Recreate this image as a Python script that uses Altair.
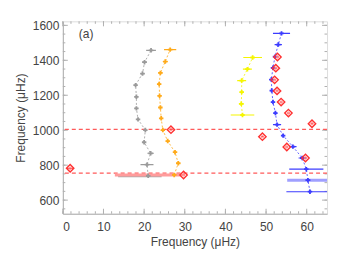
import altair as alt
import pandas as pd

# ---- data ----
gray_x = [21.7, 20.1, 19.6, 17.9, 18.1, 18.1, 18.5, 20.3, 20.0, 21.6, 20.7, 21.0]
gray_y = [1457, 1389, 1324, 1258, 1191, 1125, 1062, 1001, 931, 868, 803, 739]
gray_e = [1.2, 0.6, 0.5, 0.3, 0.3, 0.3, 0.3, 0.4, 0.3, 0.8, 1.6, 0.5]

orange_x = [26.4, 25.2, 24.0, 23.7, 23.8, 24.0, 24.2, 24.6, 25.8, 27.6, 28.4, 27.4]
orange_y = [1461, 1393, 1328, 1264, 1197, 1130, 1068, 1001, 938, 874, 811, 744]
orange_e = [1.5, 0.6, 0.5, 0.4, 0.4, 0.4, 0.4, 0.4, 0.4, 0.4, 0.5, 0.5]

yellow_x = [46.7, 45.4, 44.0, 44.0, 43.9, 44.2]
yellow_y = [1416, 1349, 1284, 1218, 1151, 1087]
yellow_e = [2.3, 1.1, 1.1, 0.5, 0.6, 2.9]

blue_x = [53.8, 53.0, 52.2, 51.7, 51.3, 51.4, 51.7, 52.3, 52.7, 54.2, 56.6, 58.9, 59.9, 60.3, 60.8]
blue_y = [1554, 1490, 1421, 1357, 1290, 1227, 1161, 1098, 1032, 969, 906, 841, 777, 714, 648]
blue_e = [2.1, 0.9, 0.5, 0.5, 0.5, 0.4, 0.4, 0.4, 1.0, 0.4, 0.9, 0.9, 4.2, 0.6, 5.8]

red_x = [1.8, 26.6, 29.7, 49.1, 52.8, 52.4, 52.1, 52.7, 53.7, 55.5, 61.3, 55.1, 59.7]
red_y = [782, 1003, 744, 963, 1419, 1355, 1288, 1225, 1161, 1098, 1037, 904, 841]
red_e = [0.8, 0.3, 0.3, 0.3, 0.3, 0.3, 0.3, 0.3, 0.3, 0.3, 0.3, 0.3, 0.3]

wide_lo = [13.6, 12.8, 55.2]
wide_hi = [24.3, 29.3, 65.5]
wide_y = [739, 744, 714]
wide_col = ["#a8a8a8", "#ff9c9c", "#a0a0ff"]

hlines = [1005, 754]

x_major = [0, 10, 20, 30, 40, 50, 60]
x_minor = list(range(0, 66, 2))
y_major = [600, 800, 1000, 1200, 1400, 1600]
y_minor = list(range(550, 1625, 50))

XDOM = [0, 65]
YDOM = [522, 1623]
W, H = 265, 193

series = [
    ("gray", gray_x, gray_y, gray_e, "#9a9a9a"),
    ("orange", orange_x, orange_y, orange_e, "#ffaa1a"),
    ("yellow", yellow_x, yellow_y, yellow_e, "#f5f500"),
    ("blue", blue_x, blue_y, blue_e, "#3c3cff"),
]

xs = alt.Scale(domain=XDOM, nice=False, zero=False)
ys = alt.Scale(domain=YDOM, nice=False, zero=False)
font = "Liberation Sans"
axcol = "#b0b0b0"
red = "#ff3030"
TITLE = "Frequency (μHz)"

xaxis = alt.Axis(values=x_major, format="d", ticks=False, grid=False, domainColor=axcol,
                 labelColor="#444", labelFontSize=12, labelFont=font, labelPadding=8,
                 labelOverlap=False,
                 titleFont=font, titleFontSize=12, titleFontWeight="normal",
                 titleColor="#444", titlePadding=4)
yaxis = alt.Axis(values=y_major, format="d", ticks=False, grid=False, domainColor=axcol,
                 labelColor="#444", labelFontSize=12, labelFont=font, labelPadding=4,
                 labelOverlap=False,
                 titleFont=font, titleFontSize=12, titleFontWeight="normal",
                 titleColor="#444", titlePadding=5)

def X(f):
    return alt.X(f, scale=xs, axis=xaxis, title=TITLE)

def Y(f):
    return alt.Y(f, scale=ys, axis=yaxis, title=TITLE)

layers = []

axis_df = pd.DataFrame({"x": [XDOM[0]], "y": [YDOM[0]]})
layers.append(alt.Chart(axis_df).mark_point(opacity=0).encode(x=X("x:Q"), y=Y("y:Q")))

def xticks(vals, length):
    d = pd.DataFrame({"x": vals})
    b = alt.Chart(d).mark_rule(color=axcol, strokeWidth=1)
    return [
        b.encode(x=X("x:Q"), y=alt.value(H), y2=alt.value(H - length)),
        b.encode(x=X("x:Q"), y=alt.value(0), y2=alt.value(length)),
    ]

def yticks(vals, length):
    d = pd.DataFrame({"y": [v for v in vals if YDOM[0] <= v <= YDOM[1]]})
    b = alt.Chart(d).mark_rule(color=axcol, strokeWidth=1)
    return [
        b.encode(y=Y("y:Q"), x=alt.value(0), x2=alt.value(length)),
        b.encode(y=Y("y:Q"), x=alt.value(W), x2=alt.value(W - length)),
    ]

layers += xticks(x_major, 5) + xticks(x_minor, 2.5) + yticks(y_major, 5) + yticks(y_minor, 2.5)

hl = pd.DataFrame({"y": hlines})
layers.append(alt.Chart(hl).mark_rule(color="#ff5a5a", strokeDash=[4, 3], strokeWidth=1.2).encode(
    y=Y("y:Q")))

wd = pd.DataFrame({"lo": wide_lo, "hi": wide_hi, "y": wide_y, "c": wide_col})
layers.append(alt.Chart(wd).mark_rule(strokeWidth=3, clip=True).encode(
    x=X("lo:Q"), x2="hi:Q", y=Y("y:Q"),
    color=alt.Color("c:N", scale=None)))

for name, sx, sy, se, col in series:
    d = pd.DataFrame({"x": sx, "y": sy, "lo": [a - b for a, b in zip(sx, se)],
                      "hi": [a + b for a, b in zip(sx, se)]})
    layers.append(alt.Chart(d).mark_line(color=col, strokeDash=[2, 2], strokeWidth=1, opacity=0.8).encode(
        x=X("x:Q"), y=Y("y:Q"), order="y:Q"))
    layers.append(alt.Chart(d).mark_rule(color=col, strokeWidth=1.2, clip=True).encode(
        x=X("lo:Q"), x2="hi:Q", y=Y("y:Q")))
    layers.append(alt.Chart(d).mark_point(shape="cross", filled=True, color=col, size=20, opacity=1).encode(
        x=X("x:Q"), y=Y("y:Q")))

rd = pd.DataFrame({"x": red_x, "y": red_y, "lo": [a - b for a, b in zip(red_x, red_e)],
                   "hi": [a + b for a, b in zip(red_x, red_e)]})
layers.append(alt.Chart(rd).mark_rule(color=red, strokeWidth=1).encode(
    x=X("lo:Q"), x2="hi:Q", y=Y("y:Q")))
layers.append(alt.Chart(rd).mark_point(shape="diamond", filled=False, stroke=red,
                                       size=55, strokeWidth=1.4, opacity=1).encode(
    x=X("x:Q"), y=Y("y:Q")))
layers.append(alt.Chart(rd).mark_point(shape="circle", filled=False, stroke="#ff8080",
                                       size=6, strokeWidth=0.8, opacity=1).encode(
    x=X("x:Q"), y=Y("y:Q")))

layers.append(alt.Chart(axis_df).mark_text(text="(a)", font=font, fontSize=12, color="#444",
                                          align="left", baseline="middle").encode(
    x=alt.value(16), y=alt.value(13)))

chart = alt.layer(*layers).properties(
    width=W, height=H,
    autosize=alt.AutoSizeParams(type="none"),
    padding={"left": 55, "top": 13, "right": 12, "bottom": 36},
).configure_view(stroke=axcol, strokeWidth=1).configure(background="white")

chart.save("out.html", embed_options={"renderer": "svg", "actions": False})
